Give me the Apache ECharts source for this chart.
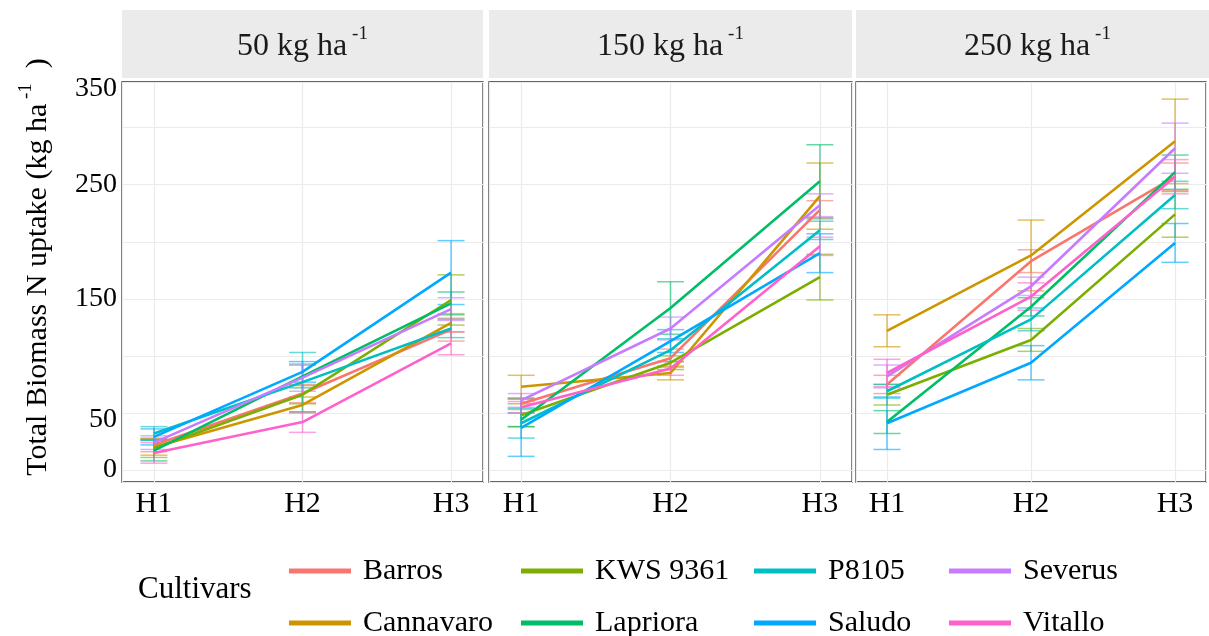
<!DOCTYPE html>
<html><head><meta charset="utf-8">
<script src="https://cdn.jsdelivr.net/npm/echarts@6.0.0/dist/echarts.min.js"></script>
<style>html,body{margin:0;padding:0;background:#fff}#c{width:1209px;height:636px}</style>
</head><body><div id="c"></div>
<script>
const stages = ['H1', 'H2', 'H3'];
const panelTitles = ['50 kg ha', '150 kg ha', '250 kg ha'];
const cultivars = ['Barros', 'Cannavaro', 'KWS 9361', 'Lapriora', 'P8105', 'Saludo', 'Severus', 'Vitallo'];
const colors = ['#F8766D', '#CD9600', '#7CAE00', '#00BE67', '#00BFC4', '#00A9FF', '#C77CFF', '#FF61CC'];
const yTickValues = [0, 50, 150, 250, 340];
const yTickLabels = ['0', '50', '150', '250', '350'];

// mean N uptake per cultivar [H1, H2, H3]
const mean50 = [
  [22, 67, 123], [20, 57, 129], [19, 66, 149], [17, 82, 146],
  [32, 77, 124], [29, 86, 173], [24, 81, 141], [15, 42, 111]
];
const se50 = [
  [6, 8, 10], [7, 7, 8], [8, 8, 22], [9, 10, 10],
  [6, 26, 8], [7, 9, 28], [6, 12, 10], [9, 9, 10]
];
const mean150 = [
  [58, 98, 228], [73, 85, 240], [48, 94, 169], [44, 142, 253],
  [41, 105, 210], [37, 113, 190], [61, 124, 232], [55, 89, 196]
];
const se150 = [
  [5, 8, 8], [10, 6, 29], [10, 6, 20], [6, 23, 32],
  [13, 10, 8], [25, 10, 17], [6, 10, 10], [5, 6, 8]
];
const mean250 = [
  [75, 183, 257], [122, 188, 288], [66, 114, 224], [42, 143, 261],
  [69, 132, 241], [41, 94, 199], [82, 161, 282], [85, 152, 257]
];
const se250 = [
  [8, 10, 12], [14, 31, 37], [9, 10, 20], [10, 8, 15],
  [6, 10, 12], [23, 15, 17], [10, 8, 22], [12, 12, 15]
];
const means = [mean50, mean150, mean250];
const ses = [se50, se150, se250];

const FONT = 'Liberation Serif';
const panelLeft = [122, 489, 856];
const panelWidth = [361, 363, 363];
const panelTop = 82, panelHeight = 400;

function rgba(hex, a) {
  const n = parseInt(hex.slice(1), 16);
  return 'rgba(' + ((n >> 16) & 255) + ',' + ((n >> 8) & 255) + ',' + (n & 255) + ',' + a + ')';
}

const grids = [], xAxes = [], yAxes = [], series = [], graphics = [];
for (let p = 0; p < 3; p++) {
  grids.push({left: panelLeft[p], top: panelTop, width: panelWidth[p], height: panelHeight,
    show: true, borderColor: '#333333', borderWidth: 1.3, backgroundColor: '#fff'});
  xAxes.push({type: 'value', gridIndex: p, min: 0.785, max: 3.215, splitNumber: 2,
    axisLine: {show: false}, axisTick: {show: false},
    splitLine: {show: true, lineStyle: {color: '#EBEBEB', width: 1.2}},
    axisLabel: {show: true, margin: 7, fontSize: 30, fontFamily: FONT, color: '#000',
      showMinLabel: true, showMaxLabel: true,
      formatter: v => (Math.abs(v - Math.round(v)) < 1e-6 && v >= 1 && v <= 3) ? stages[Math.round(v) - 1] : ''}});
  yAxes.push({type: 'value', gridIndex: p, min: -10.5, max: 340, splitNumber: 7,
    axisLine: {show: false}, axisTick: {show: false},
    splitLine: {show: true, lineStyle: {color: '#EBEBEB', width: 1.2}},
    axisLabel: {show: p === 0, margin: 5, fontSize: 28, fontFamily: FONT, color: '#000',
      showMinLabel: true, showMaxLabel: true,
      formatter: v => {
        const i = yTickValues.indexOf(v);
        if (i < 0) return '';
        return (v === 340 || v === 50) ? '{d|' + yTickLabels[i] + '}' : yTickLabels[i];
      },
      rich: {d: {fontSize: 28, fontFamily: FONT, color: '#000', padding: [14, 0, 0, 0]}}}});
}
// error bars first
for (let p = 0; p < 3; p++) {
  cultivars.forEach((name, c) => {
    const col = colors[c];
    series.push({type: 'custom', name, xAxisIndex: p, yAxisIndex: p, z: 2,
      itemStyle: {color: col},
      data: stages.map((s, i) => [i + 1, means[p][c][i] - ses[p][c][i], means[p][c][i] + ses[p][c][i]]),
      encode: {x: 0, y: [1, 2]},
      renderItem: (params, api) => {
        const x = api.value(0);
        const lo = api.coord([x, api.value(1)]), hi = api.coord([x, api.value(2)]);
        const hw = 13.5;
        const st = {stroke: rgba(col, 0.6), lineWidth: 1.5};
        return {type: 'group', children: [
          {type: 'line', shape: {x1: lo[0], y1: lo[1], x2: hi[0], y2: hi[1]}, style: st},
          {type: 'line', shape: {x1: lo[0] - hw, y1: lo[1], x2: lo[0] + hw, y2: lo[1]}, style: st},
          {type: 'line', shape: {x1: hi[0] - hw, y1: hi[1], x2: hi[0] + hw, y2: hi[1]}, style: st}
        ]};
      }});
  });
}
for (let p = 0; p < 3; p++) {
  cultivars.forEach((name, c) => {
    series.push({type: 'line', name, xAxisIndex: p, yAxisIndex: p, z: 3,
      data: stages.map((s, i) => [i + 1, means[p][c][i]]),
      showSymbol: false, symbol: 'none',
      lineStyle: {width: 2.6, color: colors[c]}, itemStyle: {color: colors[c]}});
  });
}
// strips
for (let p = 0; p < 3; p++) {
  graphics.push({type: 'rect', left: panelLeft[p], top: 10, z: 0,
    shape: {width: panelWidth[p], height: 68}, style: {fill: '#EBEBEB'}});
  graphics.push({type: 'text', x: panelLeft[p] + panelWidth[p] / 2, y: 47, z: 1,
    style: {text: '{a|' + panelTitles[p] + '}{s| -1}', align: 'center', verticalAlign: 'middle',
      rich: {a: {fontSize: 32, fontFamily: FONT, fill: '#1a1a1a', lineHeight: 44},
             s: {fontSize: 19, fontFamily: FONT, fill: '#1a1a1a', lineHeight: 14, verticalAlign: 'top'}}}});
}
// y axis title
graphics.push({type: 'text', x: 38, y: 267, rotation: Math.PI / 2,
  style: {text: '{a|Total Biomass N uptake (kg ha}{s| -1}{a|  )}', align: 'center', verticalAlign: 'middle',
    rich: {a: {fontSize: 30, fontFamily: FONT, fill: '#000', lineHeight: 42},
           s: {fontSize: 19, fontFamily: FONT, fill: '#000', lineHeight: 14, verticalAlign: 'top'}}}});
// legend title
graphics.push({type: 'text', x: 138, y: 590,
  style: {text: 'Cultivars', align: 'left', verticalAlign: 'middle', fontSize: 31, fontFamily: FONT, fill: '#000'}});

const legCols = [289, 521, 754, 949];
const legRows = [570, 622];
const legends = cultivars.map((name, c) => ({
  data: [name], left: legCols[Math.floor(c / 2)], top: legRows[c % 2] - 14,
  orient: 'horizontal', padding: 0, itemGap: 0, icon: 'rect', itemWidth: 62, itemHeight: 5,
  textStyle: {fontSize: 30, fontFamily: FONT, color: '#000', padding: [0, 0, 0, 7]}
}));

const chart = echarts.init(document.getElementById('c'), null, {renderer: 'canvas'});
chart.setOption({
  animation: false,
  backgroundColor: '#fff',
  grid: grids, xAxis: xAxes, yAxis: yAxes, series, legend: legends, graphic: graphics
});
</script></body></html>
